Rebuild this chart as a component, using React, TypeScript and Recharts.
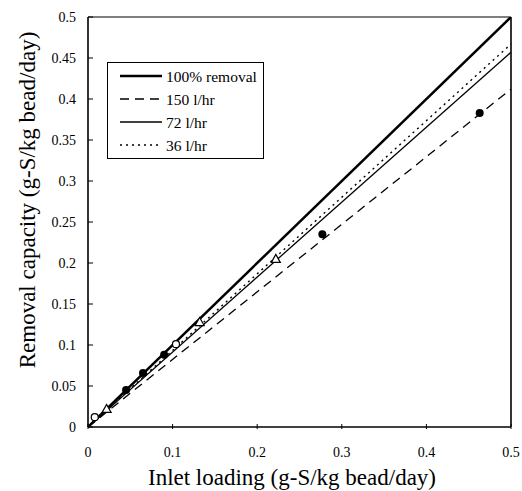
import React from "react";
import { ComposedChart, Line, Scatter, XAxis, YAxis, ReferenceLine } from "recharts";

const FONT = '"Liberation Serif", "Times New Roman", serif';

const xTicks = [0, 0.1, 0.2, 0.3, 0.4, 0.5];
const yTicks = [0, 0.05, 0.1, 0.15, 0.2, 0.25, 0.3, 0.35, 0.4, 0.45, 0.5];
const xTickLabels = ["0", "0.1", "0.2", "0.3", "0.4", "0.5"];
const yTickLabels = ["0", "0.05", "0.1", "0.15", "0.2", "0.25", "0.3", "0.35", "0.4", "0.45", "0.5"];

const xTitle = "Inlet loading (g-S/kg bead/day)";
const yTitle = "Removal capacity (g-S/kg bead/day)";

const lineNames = ["100% removal", "150 l/hr", "72 l/hr", "36 l/hr"];
const lineX = [0, 0.5];
const removal100 = [0, 0.5];
const flow150 = [0, 0.412];
const flow72 = [0, 0.457];
const flow36 = [0, 0.467];

const filledX = [0.045, 0.065, 0.09, 0.277, 0.463];
const filledY = [0.045, 0.066, 0.088, 0.235, 0.383];
const triX = [0.022, 0.132, 0.222];
const triY = [0.022, 0.128, 0.205];
const openX = [0.008, 0.104];
const openY = [0.012, 0.101];

const mk = (xs: number[], ys: number[]) => xs.map((x, i) => ({ x, y: ys[i] }));

const lineStyles = [
  { stroke: "#000", strokeWidth: 2.5, dash: undefined as string | undefined },
  { stroke: "#000", strokeWidth: 1.3, dash: "9 6" },
  { stroke: "#000", strokeWidth: 1.3, dash: undefined },
  { stroke: "#000", strokeWidth: 1.4, dash: "2 4" },
];
const lineData = [removal100, flow150, flow72, flow36];

const XTick = (props: any) => {
  const { x, y, payload } = props;
  const i = xTicks.indexOf(payload.value);
  return (
    <g>
      <line x1={x} x2={x} y1={y} y2={y - 5} stroke="#000" strokeWidth={1} />
      <text x={x} y={y + 23} textAnchor="middle" dominantBaseline="central" fontFamily={FONT} fontSize={14} fill="#000">
        {i >= 0 ? xTickLabels[i] : payload.value}
      </text>
    </g>
  );
};

const YTick = (props: any) => {
  const { x, y, payload } = props;
  const i = yTicks.indexOf(payload.value);
  return (
    <g>
      <line x1={x} x2={x + 5} y1={y} y2={y} stroke="#000" strokeWidth={1} />
      <text x={x - 12} y={y} textAnchor="end" dominantBaseline="central" fontFamily={FONT} fontSize={14} fill="#000">
        {i >= 0 ? yTickLabels[i] : payload.value}
      </text>
    </g>
  );
};

const XTitle = () => (
  <text x={292} y={485} textAnchor="middle" fontFamily={FONT} fontSize={23} fill="#000">
    {xTitle}
  </text>
);

const YTitle = () => (
  <text x={0} y={0} transform="translate(35,200) rotate(-90)" textAnchor="middle" fontFamily={FONT} fontSize={23} fill="#000">
    {yTitle}
  </text>
);

const LegendBox = () => (
  <svg width={158} height={98} style={{ display: "block" }}>
    <rect x={0.5} y={0.5} width={156} height={96} fill="#fff" stroke="#000" strokeWidth={1} />
    {lineNames.map((n, i) => {
      const ly = 14 + i * 23;
      const s = lineStyles[i];
      return (
        <g key={n}>
          <line x1={13} x2={55} y1={ly} y2={ly} stroke={s.stroke} strokeWidth={s.strokeWidth} strokeDasharray={s.dash} />
          <text x={59} y={ly} dominantBaseline="central" fontFamily={FONT} fontSize={15.5} fill="#000">
            {n}
          </text>
        </g>
      );
    })}
  </svg>
);

export default function App() {
  return (
    <div style={{ position: "absolute", left: 0, top: 0, width: 522, height: 491, background: "#fff" }}>
      <ComposedChart width={522} height={491} margin={{ top: 17, right: 11, left: 0, bottom: 0 }}>
        <XAxis
          dataKey="x"
          type="number"
          domain={[0, 0.5]}
          ticks={xTicks}
          tickSize={0}
          tickLine={false}
          tick={<XTick />}
          height={64}
          axisLine={{ stroke: "#000", strokeWidth: 1.6 }}
          allowDataOverflow
          label={<XTitle />}
        />
        <YAxis
          dataKey="y"
          type="number"
          domain={[0, 0.5]}
          ticks={yTicks}
          tickSize={0}
          tickMargin={0}
          tickLine={false}
          tick={<YTick />}
          width={88}
          axisLine={{ stroke: "#000", strokeWidth: 1.6 }}
          allowDataOverflow
          label={<YTitle />}
        />
        <ReferenceLine y={0.5} stroke="#000" strokeWidth={1.2} />
        <ReferenceLine x={0.5} stroke="#000" strokeWidth={1.6} />
        {lineNames.map((n, i) => (
          <Line
            key={n}
            name={n}
            data={mk(lineX, lineData[i])}
            dataKey="y"
            type="linear"
            stroke={lineStyles[i].stroke}
            strokeWidth={lineStyles[i].strokeWidth}
            strokeDasharray={lineStyles[i].dash}
            dot={false}
            activeDot={false}
            isAnimationActive={false}
          />
        ))}
        <Scatter name="filled" data={mk(filledX, filledY)} dataKey="y" fill="#000" shape={(p: any) => <circle cx={p.cx} cy={p.cy} r={4} fill="#000" />} isAnimationActive={false} />
        <Scatter name="tri" data={mk(triX, triY)} dataKey="y" fill="#fff" shape={(p: any) => <path d={`M${p.cx},${p.cy - 4.5} L${p.cx + 4.5},${p.cy + 3.5} L${p.cx - 4.5},${p.cy + 3.5} Z`} fill="#fff" stroke="#000" strokeWidth={1.2} />} isAnimationActive={false} />
        <Scatter name="open" data={mk(openX, openY)} dataKey="y" fill="#fff" shape={(p: any) => <circle cx={p.cx} cy={p.cy} r={3.5} fill="#fff" stroke="#000" strokeWidth={1.2} />} isAnimationActive={false} />
      </ComposedChart>
      <div style={{ position: "absolute", left: 107, top: 62 }}>
        <LegendBox />
      </div>
    </div>
  );
}
